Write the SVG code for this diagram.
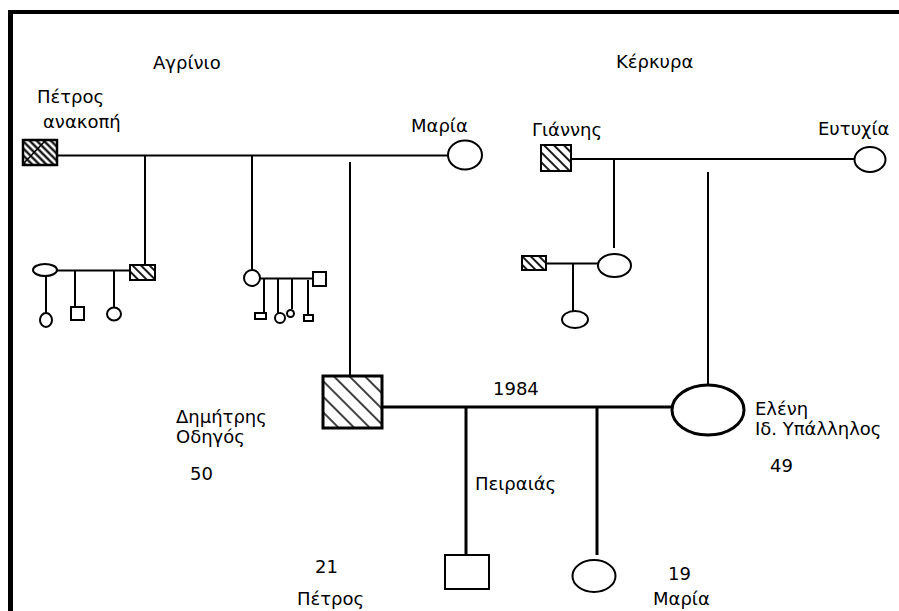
<svg xmlns="http://www.w3.org/2000/svg" width="899" height="611" viewBox="0 0 899 611">
<style>
.t{font-family:"DejaVu Sans","Liberation Sans",sans-serif;font-size:18px;fill:#000}
.r{font-family:"DejaVu Sans","Liberation Sans",sans-serif;font-size:18px;fill:#000}
.ln{stroke:#000;stroke-width:2;fill:none}
.lt{stroke:#000;stroke-width:3;fill:none}
.sh{fill:#fff;stroke:#000;stroke-width:2}
.shb{fill:#fff;stroke:#000;stroke-width:3}
</style>
<defs>
<pattern id="hP" width="5" height="5" patternUnits="userSpaceOnUse" patternTransform="rotate(-45)"><line x1="1.5" y1="0" x2="1.5" y2="5" stroke="#000" stroke-width="2.2"/></pattern>
<pattern id="hG" width="7" height="7" patternUnits="userSpaceOnUse" patternTransform="rotate(-45)"><line x1="2" y1="0" x2="2" y2="7" stroke="#000" stroke-width="1.8"/></pattern>
<pattern id="hS" width="6" height="6" patternUnits="userSpaceOnUse" patternTransform="rotate(-45)"><line x1="2" y1="0" x2="2" y2="6" stroke="#000" stroke-width="1.8"/></pattern>
<pattern id="hD" width="11" height="11" patternUnits="userSpaceOnUse" patternTransform="rotate(-45)"><line x1="3" y1="0" x2="3" y2="11" stroke="#000" stroke-width="1.5"/></pattern>
</defs>
<rect width="899" height="611" fill="#fff"/>
<g id="frame">
<line x1="8" y1="12" x2="899" y2="12" stroke="#000" stroke-width="4"/>
<line x1="10.5" y1="10" x2="10.5" y2="611" stroke="#000" stroke-width="5"/>
</g>
<g id="connectors">
<line class="ln" x1="57" y1="155.5" x2="448" y2="155.5"/>
<line class="ln" x1="145" y1="155" x2="145" y2="265"/>
<line class="ln" x1="252" y1="155" x2="252" y2="270"/>
<line class="ln" x1="350" y1="162" x2="350" y2="376"/>
<line class="ln" x1="57" y1="270.5" x2="130" y2="270.5"/>
<line class="ln" x1="46" y1="276" x2="46" y2="313"/>
<line class="ln" x1="75" y1="270" x2="75" y2="307"/>
<line class="ln" x1="114" y1="270" x2="114" y2="308"/>
<line class="ln" x1="260" y1="278.5" x2="313" y2="278.5"/>
<line class="ln" x1="264" y1="278" x2="264" y2="313"/>
<line class="ln" x1="278" y1="278" x2="278" y2="313"/>
<line class="ln" x1="292" y1="278" x2="292" y2="309"/>
<line class="ln" x1="308" y1="280" x2="308" y2="315"/>
<line class="ln" x1="571" y1="159" x2="855" y2="159"/>
<line class="ln" x1="614" y1="159" x2="614" y2="248"/>
<line class="ln" x1="708" y1="172" x2="708" y2="385"/>
<line class="ln" x1="546" y1="263.5" x2="598" y2="263.5"/>
<line class="ln" x1="573" y1="263" x2="573" y2="311"/>
<line class="lt" x1="382" y1="407" x2="672" y2="407"/>
<line class="lt" x1="466" y1="407" x2="466" y2="555"/>
<line class="lt" x1="597" y1="407" x2="597" y2="555"/>
</g>
<g id="petros-grandfather">
<rect x="23" y="140" width="34" height="25" fill="url(#hP)" stroke="#000" stroke-width="2.5"/>
<line x1="24" y1="163" x2="45" y2="141" stroke="#000" stroke-width="1.5"/>
</g>
<g id="maria-grandmother"><ellipse class="sh" cx="465" cy="155" rx="17" ry="14.5"/></g>
<g id="ll-spouse"><ellipse class="sh" cx="45" cy="270" rx="12" ry="6"/></g>
<g id="ll-son"><rect x="130" y="265" width="25" height="15" fill="url(#hS)" stroke="#000" stroke-width="2"/></g>
<g id="ll-c1"><ellipse class="sh" cx="46" cy="320" rx="6" ry="7"/></g>
<g id="ll-c2"><rect class="sh" x="71" y="307" width="13" height="13"/></g>
<g id="ll-c3"><ellipse class="sh" cx="114" cy="314" rx="7" ry="6.5"/></g>
<g id="lm-daughter"><circle class="sh" cx="252" cy="278" r="8"/></g>
<g id="lm-spouse"><rect class="sh" x="313" y="272" width="13" height="14"/></g>
<g id="lm-c1"><rect class="sh" x="255" y="313" width="11" height="6"/></g>
<g id="lm-c2"><circle class="sh" cx="280" cy="318" r="5"/></g>
<g id="lm-c3"><circle class="sh" cx="290.5" cy="313.5" r="3.5"/></g>
<g id="lm-c4"><rect class="sh" x="304" y="315" width="9" height="6"/></g>
<g id="giannis"><rect x="541" y="145" width="30" height="26" fill="url(#hG)" stroke="#000" stroke-width="2"/></g>
<g id="eftychia"><ellipse class="sh" cx="870" cy="159.5" rx="15.5" ry="12.5"/></g>
<g id="r-spouse"><rect x="522" y="256" width="24" height="14" fill="url(#hS)" stroke="#000" stroke-width="2"/></g>
<g id="r-daughter"><ellipse class="sh" cx="614.5" cy="265.5" rx="16.5" ry="11.5"/></g>
<g id="r-child"><ellipse class="sh" cx="575" cy="319.5" rx="13" ry="8.5"/></g>
<g id="dimitris"><rect x="323" y="376" width="59" height="52" fill="url(#hD)" stroke="#000" stroke-width="3"/></g>
<g id="eleni"><ellipse class="shb" cx="708" cy="410" rx="36" ry="25"/></g>
<g id="petros"><rect class="sh" x="445" y="555" width="44" height="34"/></g>
<g id="maria"><ellipse class="sh" cx="594" cy="576" rx="21.5" ry="16"/></g>
<g id="labels">
<text class="r" x="153" y="69">Αγρίνιο</text>
<text class="r" x="616" y="68">Κέρκυρα</text>
<text class="r" x="37" y="103">Πέτρος</text>
<text class="r" x="43" y="128">ανακοπή</text>
<text class="r" x="411" y="132">Μαρία</text>
<text class="r" x="532" y="136">Γιάννης</text>
<text class="r" x="818" y="135">Ευτυχία</text>
<text class="t" x="176" y="423">Δημήτρης</text>
<text class="t" x="176" y="443">Οδηγός</text>
<text class="t" x="190" y="480">50</text>
<text class="t" x="493" y="395">1984</text>
<text class="t" x="755" y="415">Ελένη</text>
<text class="t" x="755" y="435">Ιδ. Υπάλληλος</text>
<text class="t" x="770" y="472">49</text>
<text class="t" x="475" y="490">Πειραιάς</text>
<text class="t" x="315" y="573">21</text>
<text class="t" x="297" y="605">Πέτρος</text>
<text class="t" x="668" y="580">19</text>
<text class="t" x="653" y="605">Μαρία</text>
</g>
</svg>
